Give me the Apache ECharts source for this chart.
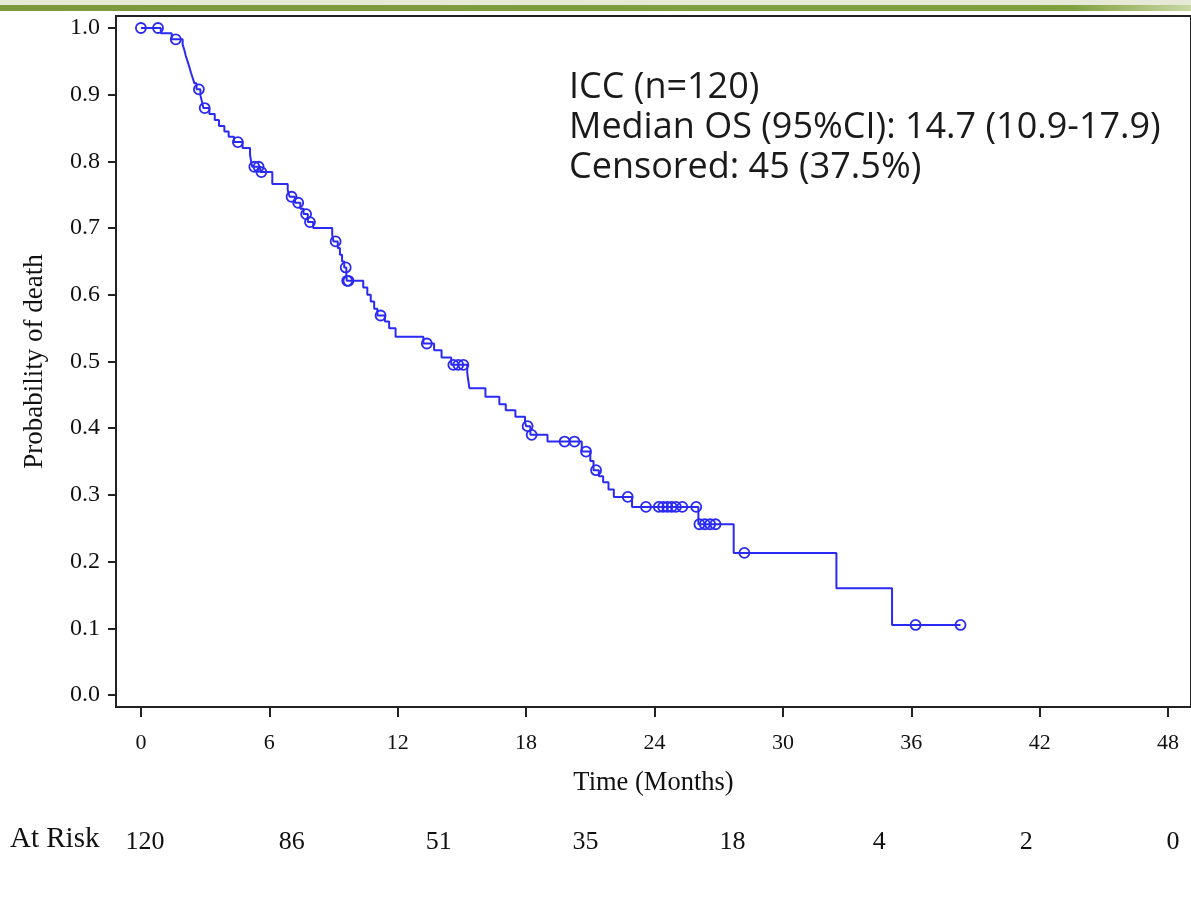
<!DOCTYPE html>
<html>
<head>
<meta charset="utf-8">
<script src="https://cdn.jsdelivr.net/npm/echarts@6/dist/echarts.min.js"></script>
<style>
html,body{margin:0;padding:0;background:#fff;}
#chart{width:1191px;height:904px;}
</style>
</head>
<body>
<div id="chart"></div>
<script>
// ---- data ----
const eventTimes = [0, 0.93, 1.44, 1.95, 2.03, 2.1, 2.18, 2.26, 2.34, 2.42, 2.5, 2.6, 2.78, 2.85, 2.92, 3.2, 3.45, 3.65, 3.9, 4.1, 4.35, 4.75, 5.1, 5.15, 5.2, 5.58, 6.14, 6.86, 6.95, 7.2, 7.45, 7.6, 7.8, 8.05, 8.94, 9.0, 9.2, 9.3, 9.4, 9.5, 9.6, 9.62, 10.39, 10.58, 10.74, 10.9, 11.05, 11.4, 11.6, 11.9, 13.2, 13.7, 14.05, 14.5, 15.25, 15.3, 15.35, 16.1, 16.75, 17.05, 17.5, 17.95, 18.0, 18.2, 19.0, 20.6, 21.0, 21.15, 21.4, 21.6, 21.85, 22.1, 22.95, 26.05, 27.7, 32.5, 35.1, 38.3];
const survivalLevels = [1.0, 0.992, 0.983, 0.975, 0.967, 0.958, 0.950, 0.942, 0.933, 0.925, 0.917, 0.908, 0.899, 0.890, 0.880, 0.871, 0.862, 0.853, 0.845, 0.837, 0.829, 0.820, 0.810, 0.800, 0.792, 0.784, 0.766, 0.757, 0.747, 0.738, 0.729, 0.721, 0.709, 0.700, 0.690, 0.680, 0.670, 0.660, 0.650, 0.641, 0.631, 0.621, 0.611, 0.600, 0.590, 0.579, 0.569, 0.560, 0.550, 0.537, 0.527, 0.517, 0.506, 0.495, 0.483, 0.471, 0.460, 0.447, 0.436, 0.427, 0.417, 0.409, 0.403, 0.390, 0.380, 0.365, 0.351, 0.337, 0.328, 0.319, 0.308, 0.297, 0.282, 0.256, 0.213, 0.160, 0.105, 0.105];
const censorTimes = [0, 0.8, 1.63, 2.71, 2.98, 4.53, 5.3, 5.5, 5.63, 7.04, 7.35, 7.72, 7.9, 9.1, 9.57, 9.64, 9.7, 11.2, 13.36, 14.6, 14.83, 15.07, 18.07, 18.26, 19.8, 20.26, 20.8, 21.27, 22.75, 23.6, 24.2, 24.4, 24.6, 24.8, 25.0, 25.3, 25.95, 26.1, 26.35, 26.6, 26.85, 28.2, 36.2, 38.3];
const censorLevels = [1.0, 1.0, 0.983, 0.908, 0.880, 0.829, 0.792, 0.792, 0.784, 0.747, 0.738, 0.721, 0.709, 0.680, 0.641, 0.621, 0.621, 0.569, 0.527, 0.495, 0.495, 0.495, 0.403, 0.390, 0.380, 0.380, 0.365, 0.337, 0.297, 0.282, 0.282, 0.282, 0.282, 0.282, 0.282, 0.282, 0.282, 0.256, 0.256, 0.256, 0.256, 0.213, 0.105, 0.105];
const xTicks = [0, 6, 12, 18, 24, 30, 36, 42, 48];
const yTicks = [0, 0.1, 0.2, 0.3, 0.4, 0.5, 0.6, 0.7, 0.8, 0.9, 1.0];
const atRisk = ['120', '86', '51', '35', '18', '4', '2', '0'];
const annotationLines = ['ICC (n=120)', 'Median OS (95%CI): 14.7 (10.9-17.9)', 'Censored: 45 (37.5%)'];

const blue = '#2a2af5';
const serif = '"Liberation Serif", "Times New Roman", serif';

const chart = echarts.init(document.getElementById('chart'), null, {renderer: 'canvas'});
chart.setOption({
  animation: false,
  backgroundColor: '#ffffff',
  grid: [
    {left: 116, right: -4, top: 16, bottom: 197, show: true, borderColor: '#222', borderWidth: 2, backgroundColor: 'transparent'},
    {left: 145, right: 18, top: 820, height: 1}
  ],
  xAxis: [
    {
      type: 'value', gridIndex: 0, min: -1.164, max: 49.07,
      name: 'Time (Months)', nameLocation: 'middle', nameGap: 63,
      nameTextStyle: {fontFamily: serif, fontSize: 26.5, color: '#111'},
      axisLine: {show: true, onZero: false, lineStyle: {color: '#222', width: 2}},
      axisTick: {show: true, customValues: xTicks, length: 10, lineStyle: {color: '#222', width: 2}},
      axisLabel: {show: true, customValues: xTicks, margin: 25, fontFamily: serif, fontSize: 22, color: '#111'},
      splitLine: {show: false}
    },
    {
      type: 'category', gridIndex: 1, data: atRisk, boundaryGap: false,
      axisLine: {show: false}, axisTick: {show: false},
      axisLabel: {show: true, interval: 0, margin: 8, fontFamily: serif, fontSize: 26, color: '#111'}
    }
  ],
  yAxis: [
    {
      type: 'value', gridIndex: 0, min: -0.018, max: 1.018,
      name: 'Probability of death', nameLocation: 'middle', nameGap: 68,
      nameTextStyle: {fontFamily: serif, fontSize: 27, color: '#111'},
      axisLine: {show: true, onZero: false, lineStyle: {color: '#222', width: 2}},
      axisTick: {show: true, customValues: yTicks, length: 8, lineStyle: {color: '#222', width: 2}},
      axisLabel: {show: true, customValues: yTicks, margin: 16, fontFamily: serif, fontSize: 24, color: '#111',
        formatter: v => v.toFixed(1)},
      splitLine: {show: false}
    },
    {type: 'value', gridIndex: 1, show: false}
  ],
  series: [
    {
      type: 'line', xAxisIndex: 0, yAxisIndex: 0, step: 'end', showSymbol: false, symbol: 'none',
      data: eventTimes.map((t, i) => [t, survivalLevels[i]]),
      lineStyle: {color: blue, width: 2}, z: 3
    },
    {
      type: 'scatter', xAxisIndex: 0, yAxisIndex: 0, symbol: 'circle', symbolSize: 10,
      data: censorTimes.map((t, i) => [t, censorLevels[i]]),
      itemStyle: {color: 'rgba(0,0,0,0)', borderColor: blue, borderWidth: 1.8, opacity: 1}, z: 4
    }
  ],
  graphic: [
    {type: 'rect', left: 0, top: 0, shape: {width: 1191, height: 5}, style: {fill: '#e6e9d6'}, silent: true},
    {type: 'rect', left: 0, top: 5, shape: {width: 1191, height: 6},
      style: {fill: new echarts.graphic.LinearGradient(0, 0, 1, 0, [
        {offset: 0, color: '#7b983a'}, {offset: 0.9, color: '#80a03e'}, {offset: 1, color: '#c9d7a3'}])}, silent: true},
    {type: 'text', left: 10, top: 825, style: {text: 'At Risk', font: '29px ' + serif, fill: '#111'}},
    {type: 'text', left: 569, top: 68,
      style: {text: annotationLines.join('\n'), font: '36px "Open Sans", sans-serif', lineHeight: 40, fill: '#1a1a1a'}}
  ]
});
</script>
</body>
</html>
